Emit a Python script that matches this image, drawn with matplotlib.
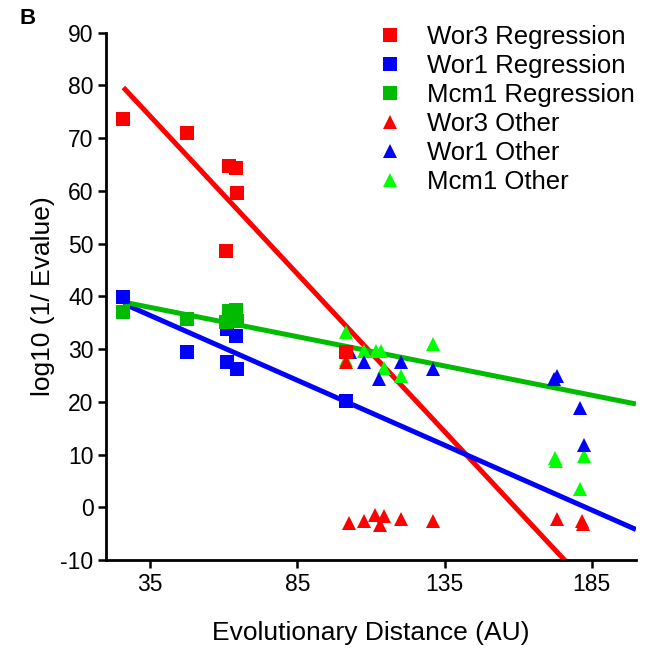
import numpy as np
import matplotlib
matplotlib.use("Agg")
import matplotlib.pyplot as plt

plt.rcParams["font.family"] = ["Liberation Sans", "DejaVu Sans"]
plt.rcParams["axes.unicode_minus"] = False

# regression points (squares)
wor3_reg_x = [25.9, 47.5, 61.7, 64.0, 64.6, 60.9, 101.5]
wor3_reg_y = [73.7, 70.9, 64.8, 64.4, 59.6, 48.7, 29.4]
wor1_reg_x = [25.9, 47.5, 61.2, 64.6, 61.2, 64.0, 101.5]
wor1_reg_y = [39.8, 29.5, 27.5, 26.2, 33.8, 32.5, 20.2]
mcm1_reg_x = [25.9, 47.5, 61.7, 64.3, 60.6, 64.6]
mcm1_reg_y = [37.0, 35.8, 37.3, 37.4, 35.1, 35.4]

# other points (triangles)
wor3_other_x = [101.5, 102.6, 107.7, 111.2, 113.0, 114.5, 120.2, 131.0, 173.1, 181.6, 182.0]
wor3_other_y = [27.5, -3.0, -2.6, -1.4, -3.3, -1.7, -2.3, -2.6, -2.3, -2.6, -3.2]
wor1_other_x = [103.0, 107.7, 112.8, 120.2, 131.0, 173.1, 172.3, 181.0, 182.2]
wor1_other_y = [29.4, 27.5, 24.3, 27.5, 26.2, 24.9, 24.3, 18.9, 11.9]
mcm1_other_x = [101.5, 101.5, 107.7, 111.7, 113.4, 114.5, 120.2, 131.0, 172.5, 172.8, 182.2, 181.0]
mcm1_other_y = [33.2, 28.0, 29.7, 29.7, 29.7, 26.5, 24.9, 31.0, 9.4, 8.8, 9.7, 3.4]

# regression lines (slope, intercept)
wor3_fit = (-0.598, 95.1)
wor1_fit = (-0.246, 45.0)
mcm1_fit = (-0.111, 41.8)

x_ticks = [35, 85, 135, 185]
y_ticks = list(range(-10, 91, 10))

RED = "#ff0000"
BLUE = "#0000ff"
GREEN = "#00bb00"
LIME = "#00ff00"

fig = plt.figure(figsize=(6.48, 6.49), dpi=100)
ax = fig.add_axes([0.1636, 0.137, 0.8178, 0.8126])
x_end = 200

for (slope, icpt), xs, col in [(wor3_fit, wor3_reg_x, RED),
                                (wor1_fit, wor1_reg_x, BLUE),
                                (mcm1_fit, mcm1_reg_x, GREEN)]:
    lx = np.array([min(xs), x_end])
    ax.plot(lx, slope * lx + icpt, color=col, lw=3.6, zorder=2,
            solid_capstyle="butt")

sq = dict(marker="s", ms=9.5, ls="none", mew=0, zorder=3)
tri = dict(marker="^", ms=10.5, ls="none", mew=0, zorder=3)
h_mo, = ax.plot(mcm1_other_x, mcm1_other_y, color=LIME, label="Mcm1 Other", **tri)
h_wo, = ax.plot(wor1_other_x, wor1_other_y, color=BLUE, label="Wor1 Other", **tri)
h_ro, = ax.plot(wor3_other_x, wor3_other_y, color=RED, label="Wor3 Other", **tri)
h_wr, = ax.plot(wor1_reg_x, wor1_reg_y, color=BLUE, label="Wor1 Regression", **sq)
h_mr, = ax.plot(mcm1_reg_x, mcm1_reg_y, color=GREEN, label="Mcm1 Regression", **sq)
h_rr, = ax.plot(wor3_reg_x, wor3_reg_y, color=RED, label="Wor3 Regression", **sq)

ax.set_xlim(20, x_end)
ax.set_ylim(-10, 90)
ax.set_xticks(x_ticks)
ax.set_yticks(y_ticks)
ax.tick_params(direction="out", length=6, width=1.8, labelsize=16.5, pad=3)
for s in ["top", "right"]:
    ax.spines[s].set_visible(False)
for s in ["left", "bottom"]:
    ax.spines[s].set_linewidth(2)

ax.set_xlabel("Evolutionary Distance (AU)", fontsize=19, labelpad=18)
ax.set_ylabel("log10 (1/ Evalue)", fontsize=19, labelpad=4)

ax.legend(handles=[h_rr, h_wr, h_mr, h_ro, h_wo, h_mo], loc="upper right",
          bbox_to_anchor=(1.018, 1.035), frameon=False, fontsize=18.5,
          handlelength=0.8, handletextpad=1.05, labelspacing=0.2,
          borderaxespad=0)

fig.text(0.03, 0.963, "B", fontsize=16, fontweight="bold")

fig.savefig("out.png", dpi=100)
